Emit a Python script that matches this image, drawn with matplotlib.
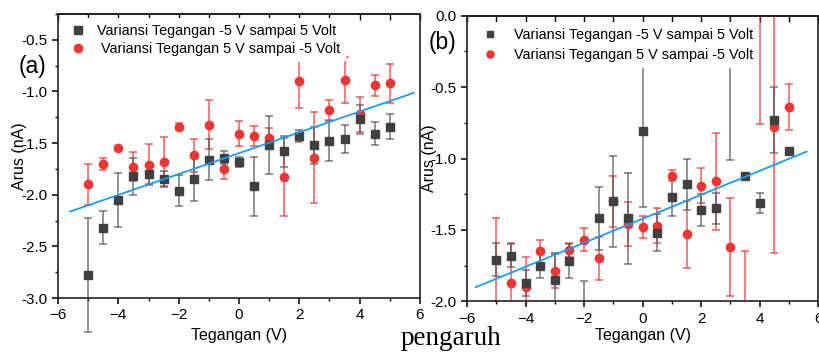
import matplotlib.pyplot as plt
from matplotlib.ticker import MultipleLocator

plt.rcParams['font.family'] = ['Liberation Sans', 'DejaVu Sans']

# tegangan (V), same for every series
volt = [-5, -4.5, -4, -3.5, -3, -2.5, -2, -1.5, -1, -0.5, 0,
        0.5, 1, 1.5, 2, 2.5, 3, 3.5, 4, 4.5, 5]

# panel (a)
a_up = [-2.78, -2.32, -2.05, -1.82, -1.80, -1.85, -1.96, -1.85, -1.66, -1.64, -1.68,
        -1.92, -1.52, -1.58, -1.43, -1.52, -1.48, -1.46, -1.27, -1.41, -1.34]
a_up_err = [0.55, 0.16, 0.26, 0.18, 0.10, 0.08, 0.15, 0.21, 0.20, 0.06, 0.05,
            0.29, 0.28, 0.15, 0.06, 0.18, 0.19, 0.14, 0.14, 0.11, 0.12]
a_down = [-1.90, -1.70, -1.55, -1.73, -1.71, -1.68, -1.34, -1.62, -1.32, -1.75, -1.41,
          -1.43, -1.45, -1.83, -0.90, -1.64, -1.18, -0.89, -1.22, -0.94, -0.92]
a_down_err = [0.20, 0.06, 0.02, 0.14, 0.20, 0.24, 0.035, 0.16, 0.24, 0.10, 0.12,
              0.10, 0.10, 0.38, 0.26, 0.44, 0.10, 0.22, 0.17, 0.10, 0.19]
a_fit_slope, a_fit_icept = 0.1009, -1.598
a_fit_range = [-5.6, 5.8]

# panel (b)
b_up = [-1.71, -1.68, -1.87, -1.75, -1.85, -1.72, -2.08, -1.42, -1.30, -1.42, -0.81,
        -1.52, -1.27, -1.18, -1.36, -1.35, -0.30, -1.12, -1.31, -0.73, -0.95]
b_up_err = [0.115, 0.08, 0.09, 0.085, 0.19, 0.12, 0.22, 0.22, 0.32, 0.32, 0.53,
            0.13, 0.13, 0.18, 0.11, 0.11, 0.71, 0.02, 0.07, 0.23, 0.02]
b_down = [-1.71, -1.87, -1.90, -1.65, -1.79, -1.64, -1.57, -1.70, -1.30, -1.46, -1.48,
          -1.47, -1.12, -1.53, -1.19, -1.16, -1.62, -2.15, 0.05, -0.78, -0.64]
b_down_err = [0.29, 0.28, 0.21, 0.08, 0.12, 0.05, 0.08, 0.15, 0.18, 0.155, 0.08,
              0.12, 0.04, 0.235, 0.12, 0.34, 0.34, 0.50, 0.81, 0.885, 0.16]
b_fit_slope, b_fit_icept = 0.084, -1.422
b_fit_range = [-5.7, 5.6]

lbl_up = "Variansi Tegangan -5 V sampai 5 Volt"
lbl_down = "Variansi Tegangan 5 V sampai -5 Volt"

BLACK = "#404040"
RED = "#ee3535"
BLUE = "#1a9cf0"


def draw_panel(ax, up, up_err, down, down_err, slope, icept, frange, clip_bars):
    ax.errorbar(volt, down, yerr=down_err, fmt='none', ecolor=RED, elinewidth=1.1,
                capsize=3, capthick=1.1, alpha=0.8, clip_on=clip_bars, zorder=2)
    ax.errorbar(volt, up, yerr=up_err, fmt='none', ecolor="#555555", elinewidth=1.1,
                capsize=3, capthick=1.1, alpha=0.8, clip_on=clip_bars, zorder=2)
    h_down, = ax.plot(volt, down, 'o', color=RED, markersize=6, zorder=3, label=lbl_down)
    h_up, = ax.plot(volt, up, 's', color=BLACK, markersize=5.5, zorder=4, label=lbl_up)
    fx = frange
    fy = [slope * x + icept for x in fx]
    ax.plot(fx, fy, color=BLUE, linewidth=1.3, zorder=5)

    ax.set_xlim(-6, 6)
    ax.xaxis.set_major_locator(MultipleLocator(2))
    ax.xaxis.set_minor_locator(MultipleLocator(1))
    ax.yaxis.set_major_locator(MultipleLocator(0.5))
    ax.yaxis.set_minor_locator(MultipleLocator(0.25))
    ax.tick_params(which='major', direction='out', length=4, width=1.1, labelsize=11,
                   right=False, top=False)
    ax.tick_params(which='minor', direction='out', length=2.5, width=1.0,
                   right=False, top=False)
    top = ax.secondary_xaxis('top')
    top.set_xticks(range(-6, 7))
    top.tick_params(direction='in', length=4, width=1.0, labeltop=False)
    top.spines['top'].set_linewidth(1.2)
    for s in ax.spines.values():
        s.set_linewidth(1.2)
        s.set_color("#222222")
    ax.set_xlabel("Tegangan (V)", fontsize=11.5)
    ax.set_ylabel("Arus (nA)", fontsize=11.5)
    ax.yaxis.set_label_coords(-0.086, 0.5)
    ax.yaxis.set_major_formatter(plt.FuncFormatter(lambda v, p: f"{v:.1f}".replace("-0.0", "0.0")))
    return h_up, h_down


fig = plt.figure(figsize=(8.19, 3.52), dpi=100)

ax_a = fig.add_axes([58 / 819, 1 - 298 / 352, 362 / 819, 284 / 352])
h_up, h_down = draw_panel(ax_a, a_up, a_up_err, a_down, a_down_err,
                          a_fit_slope, a_fit_icept, a_fit_range, False)
ax_a.set_ylim(-3.0, -0.25)
ax_a.xaxis.set_label_coords(0.5, -0.105)
ax_a.legend([h_up, h_down], [lbl_up, " " + lbl_down], loc='upper left',
            bbox_to_anchor=(0.0, 1.01), fontsize=10.4, handlelength=1.0,
            handletextpad=0.8, labelspacing=0.3, borderpad=0.4,
            frameon=True, facecolor='white', edgecolor='none', framealpha=1)

ax_b = fig.add_axes([467 / 819, 1 - 301.3 / 352, 351.3 / 819, 285.6 / 352])
h_up, h_down = draw_panel(ax_b, b_up, b_up_err, b_down, b_down_err,
                          b_fit_slope, b_fit_icept, b_fit_range, True)
ax_b.set_ylim(-2.0, 0.0)
ax_b.xaxis.set_label_coords(0.5, -0.093)
leg = ax_b.legend([h_up, h_down], [lbl_up, lbl_down], loc='upper left',
                  bbox_to_anchor=(0.007, 1.003), fontsize=10.4, handlelength=1.0,
                  handletextpad=1.2, labelspacing=0.42, borderpad=0.4, markerscale=0.85,
                  frameon=True, facecolor='white', edgecolor='none', framealpha=1)
leg.set_zorder(10)

fig.text(33 / 819, 1 - 66 / 352, "(a)", fontsize=16.5, ha='center', va='center')
fig.text(442 / 819, 1 - 43 / 352, "(b)", fontsize=16.5, ha='center', va='center')
fig.text(401 / 819, 1 - 345 / 352, "pengaruh", fontsize=19.5, family='Liberation Serif',
         ha='left', va='baseline')

fig.savefig("out.png", dpi=100)
